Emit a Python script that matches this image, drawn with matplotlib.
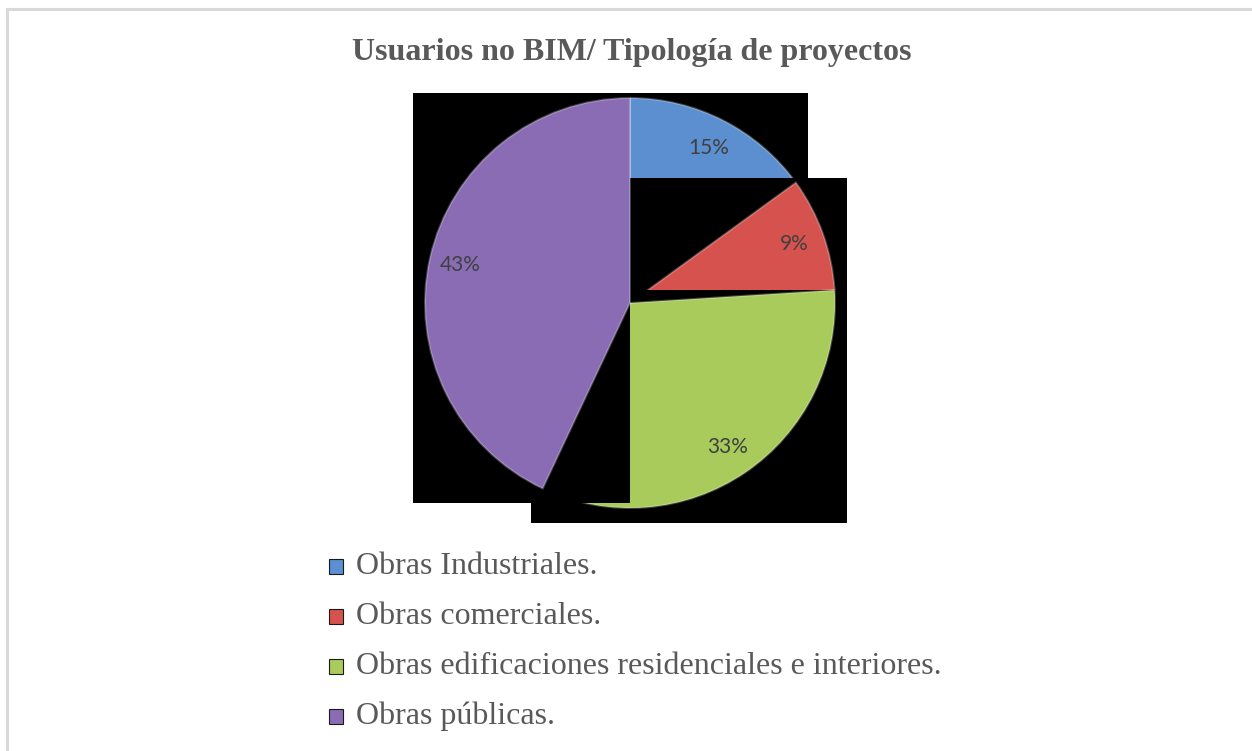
import matplotlib
matplotlib.use("Agg")
import matplotlib.pyplot as plt
import numpy as np
from matplotlib.patches import Rectangle

# data
categories = ["Obras Industriales.",
              "Obras comerciales.",
              "Obras edificaciones residenciales e interiores.",
              "Obras públicas."]
shares = [15, 9, 33, 43]
colors = ["#5b8fd0", "#d6524e", "#a9cb5b", "#8a6cb4"]
title = "Usuarios no BIM/ Tipología de proyectos"

W, H, DPI = 1252, 751, 100
fig = plt.figure(figsize=(W / DPI, H / DPI), dpi=DPI)


def px(x, y):
    # pixel (from top-left) -> figure fraction
    return x / W, 1 - y / H


# light frame round the chart
fig.add_artist(plt.Line2D([7 / W, 7 / W], [0, px(0, 9)[1]], color="#d9d9d9", lw=2.2))
fig.add_artist(plt.Line2D([7 / W, 1], [px(0, 9)[1]] * 2, color="#d9d9d9", lw=2.2))

fig.text(*px(632, 60), title, ha="center", va="baseline",
         family="Liberation Serif", weight="bold", size=23, color="#595959")

# pie axes, centred at (630, 303) px, radius 205 px
cx, cy, r = 630, 303, 205
lim = 1.25
side = 2 * r * lim
ax = fig.add_axes([(cx - side / 2) / W, (H - cy - side / 2) / H, side / W, side / H])
wedges, texts, autotexts = ax.pie(shares, colors=colors, startangle=90, counterclock=False,
                                  autopct="%d%%", pctdistance=0.85, radius=1,
                                  wedgeprops=dict(linewidth=0))
ax.set_xlim(-lim, lim)
ax.set_ylim(-lim, lim)
ax.set_aspect("equal")
ax.axis("off")

for t in autotexts:
    t.set_family("Lato")
    t.set_fontsize(15)
    t.set_color("#404040")
    t.set_zorder(20)

# black box behind every slice (rendering artefact of the source image)
pl, pr, pt, pb = 12 / r, 12 / r, 5 / r, 15 / r
for i, w in enumerate(wedges):
    bb = w.get_path().get_extents(w.get_patch_transform())
    x0, y0, x1, y1 = bb.x0, bb.y0, bb.x1, bb.y1
    x0 = x0 - pl if abs(x0) > 0.3 else x0
    y0 = y0 - pb if abs(y0) > 0.3 else y0
    x1 = x1 + pr if abs(x1) > 0.3 else x1
    y1 = y1 + pt if abs(y1) > 0.3 else y1
    ax.add_patch(Rectangle((x0, y0), x1 - x0, y1 - y0, facecolor="black",
                           edgecolor="none", zorder=2 * i + 1))
    w.set_zorder(2 * i + 2)
    # soft lighter rim to mimic the bevel
    w.set_edgecolor(matplotlib.colors.to_rgba("white", 0.25))
    w.set_linewidth(1.5)

# legend, drawn by hand
for i, (lab, col) in enumerate(zip(categories, colors)):
    base = 574 + i * 50
    x0, y0 = px(329, base)
    fig.add_artist(Rectangle((x0, y0), 14 / W, 15 / H, transform=fig.transFigure,
                             facecolor=col, edgecolor="#1a1a1a", lw=0.8))
    fig.text(*px(356, base), lab, ha="left", va="baseline",
             family="Liberation Serif", size=23, color="#595959")

fig.savefig("out.png", dpi=DPI)
